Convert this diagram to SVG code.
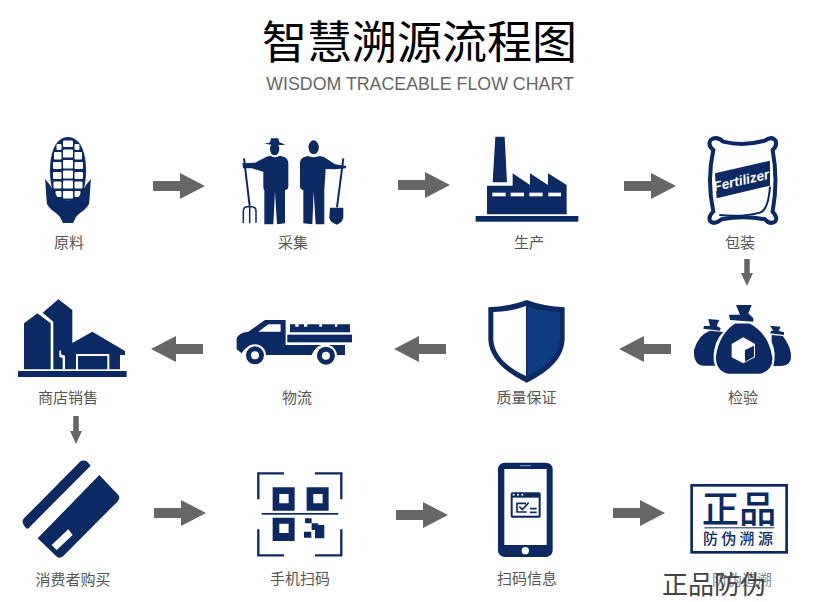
<svg xmlns="http://www.w3.org/2000/svg" width="829" height="602" viewBox="0 0 829 602">
<style>
.n{fill:#0b2a63}
.w{fill:#fff}
.l{font:15px "Noto Sans CJK SC",sans-serif;fill:#555;text-anchor:middle}
.c{stroke:#666;stroke-width:10;fill:none}
.d{stroke:#666;stroke-width:5.5;fill:none}
.t{fill:none;stroke:#0b2a63}
</style>
<defs>
<marker id="h" markerUnits="userSpaceOnUse" viewBox="0 0 25 26" refX="0" refY="13" markerWidth="25" markerHeight="26" orient="auto"><path d="M0 0L25 13L0 26Z" fill="#666"/></marker>
<marker id="s" markerUnits="userSpaceOnUse" viewBox="0 0 13 12" refX="0" refY="6" markerWidth="13" markerHeight="12" orient="auto"><path d="M0 0L13 6L0 12Z" fill="#666"/></marker>
</defs>
<rect width="829" height="602" fill="#fff"/>
<g id="title">
<text x="419.500" y="59" text-anchor="middle" style="font:45px 'Noto Sans CJK SC',sans-serif" fill="#000">智慧溯源流程图</text>
<text x="420" y="90" text-anchor="middle" style="font:17.800px 'Liberation Sans',sans-serif" fill="#666">WISDOM TRACEABLE FLOW CHART</text>
</g>
<g id="connectors">
<line class="c" x1="153" y1="186" x2="180" y2="186" marker-end="url(#h)"/>
<line class="c" x1="398" y1="185" x2="425" y2="185" marker-end="url(#h)"/>
<line class="c" x1="624" y1="186" x2="651" y2="186" marker-end="url(#h)"/>
<line class="d" x1="747" y1="259" x2="747" y2="273" marker-end="url(#s)"/>
<line class="c" x1="671" y1="349" x2="644" y2="349" marker-end="url(#h)"/>
<line class="c" x1="446" y1="349" x2="419" y2="349" marker-end="url(#h)"/>
<line class="c" x1="203" y1="349" x2="176" y2="349" marker-end="url(#h)"/>
<line class="d" x1="76" y1="416" x2="76" y2="431" marker-end="url(#s)"/>
<line class="c" x1="154" y1="513" x2="181" y2="513" marker-end="url(#h)"/>
<line class="c" x1="396" y1="515" x2="423" y2="515" marker-end="url(#h)"/>
<line class="c" x1="613" y1="513" x2="640" y2="513" marker-end="url(#h)"/>
</g>
<g id="node-raw">
<path class="n" d="M68 137C56 137 50 152 50 170C50 185 53 196 58 200H78C83 196 86 185 86 170C86 152 80 137 68 137Z"/>
<g class="w">
<rect x="63" y="140.500" width="10" height="6.500" rx="1"/><rect x="56.500" y="144" width="5" height="6" rx="1"/><rect x="74.500" y="144" width="5" height="6" rx="1"/>
<rect x="63" y="149.500" width="10" height="8" rx="1"/><rect x="54" y="152" width="7.500" height="7.500" rx="1"/><rect x="74.500" y="152" width="7.500" height="7.500" rx="1"/>
<rect x="63" y="160" width="10" height="8.500" rx="1"/><rect x="53" y="162" width="8.500" height="7" rx="1"/><rect x="74.500" y="162" width="8.500" height="7" rx="1"/>
<rect x="63" y="170.500" width="10" height="8" rx="1"/><rect x="53" y="172" width="8.500" height="7" rx="1"/><rect x="74.500" y="172" width="8.500" height="7" rx="1"/>
<rect x="63" y="180.500" width="10" height="8" rx="1"/><rect x="53.500" y="181.500" width="8" height="7" rx="1"/><rect x="74.500" y="181.500" width="8" height="7" rx="1"/>
<rect x="63" y="191" width="10" height="7.500" rx="1"/><rect x="55.500" y="191" width="6" height="6" rx="1"/><rect x="74.500" y="191" width="6" height="6" rx="1"/>
</g>
<path class="n" d="M45 179C50 184 53 190 58 198C62 201 74 201 78 198C83 190 86 184 91 179C90 188 90 196 89 204C86 210 80 212 76 217L73 223H63L60 217C56 212 50 210 47 204C46 196 46 188 45 179Z"/>
<text class="l" x="69" y="248">原料</text>
</g>
<g id="node-collect">
<g transform="translate(235 130) scale(.3333)">
<path class="n" d="M88 41Q103 39 105 37L108 25H130L133 37Q140 40 151 44Q120 47 88 41Z"/>
<ellipse class="n" cx="119" cy="57" rx="14" ry="19"/>
<path class="n" d="M22 100L60 98L95 80L105 77Q120 86 135 77L150 82Q160 88 160 100V170Q158 180 150 180V280L126 283L120 185L115 283L88 283V180Q85 178 85 170V125L50 115L24 115Z"/>
<path class="t" stroke-width="6" d="M27 85L44 228"/>
<path class="t" stroke-width="4.500" d="M25 280V243Q25 232 35 230H52Q63 232 63 243V278M44 228V280"/>
<ellipse class="n" cx="236" cy="52" rx="15.500" ry="21"/>
<path class="n" d="M334 108L300 103L268 82L255 78Q236 85 218 78L205 82Q195 88 195 100V170Q197 180 205 180V280L232 283L236 185L242 283L268 283V180L272 117L300 118L332 115Z"/>
<path class="t" stroke-width="6" d="M325 85L306 232"/>
<path class="n" d="M285 233H325V262Q322 280 305 284Q285 278 283 262Z"/>
</g>
<text class="l" x="293" y="248">采集</text>
</g>
<g id="node-produce">
<g transform="translate(460 120) scale(.3333)">
<path class="n" d="M106 50H134L141 187H98Z"/>
<path class="n" d="M81 197H158V160L210 195V160L264 195V160L320 195V283H81Z"/>
<g class="w"><rect x="97" y="218" width="40" height="11"/><rect x="152" y="218" width="40" height="11"/><rect x="208" y="218" width="40" height="11"/><rect x="265" y="218" width="38" height="11"/></g>
<rect class="n" x="47" y="288" width="308" height="17"/>
</g>
<text class="l" x="529" y="248">生产</text>
</g>
<g id="node-package">
<g transform="translate(460 120) scale(.3333)">
<path fill="#fff" stroke="#0b2a63" stroke-width="12" d="M752 60Q770 47 790 65Q850 80 915 62Q935 47 947 62Q952 78 938 90Q955 180 938 275Q955 295 945 305Q930 315 915 298Q850 285 785 298Q765 315 752 305Q742 292 760 275Q740 180 760 90Q742 75 752 60Z"/>
<path class="t" stroke-width="6" d="M778 285Q850 292 900 278Q925 270 930 200"/>
<path class="n" d="M765 160L930 122V197L770 235Z"/>
<text x="0" y="0" transform="translate(847 195) rotate(-13)" text-anchor="middle" style="font:italic bold 41px 'Liberation Sans',sans-serif" fill="#fff">Fertilizer</text>
</g>
<text class="l" x="740" y="248">包装</text>
</g>
<g id="node-inspect">
<g transform="translate(690 300) scale(.3333)">
<path class="n" d="M55 57L88 60L80 78L92 84L90 92L40 86L42 78L60 78Z"/>
<path class="n" d="M60 92L100 96Q85 110 78 130Q65 170 75 197H40Q10 195 12 150Q25 105 60 92Z"/>
<path class="n" d="M240 77L272 80L266 92L282 97L282 105L240 100L244 92L250 92Z"/>
<path class="n" d="M245 105L278 108Q305 140 303 175Q300 197 275 198H250Q260 160 245 125Z"/>
<path class="n" stroke="#fff" stroke-width="5" d="M135 68H180Q240 100 250 175Q250 215 210 224H115Q75 215 75 170Q85 100 135 68Z"/>
<path class="n" d="M138 15H185L175 40L190 55V65L120 60L117 44H150Z"/>
<path class="w" d="M160 112L195 132V172L160 190L125 172V132Z"/>
<path class="n" d="M165 150L192 137V170L165 185Z"/>
</g>
<text class="l" x="743" y="403">检验</text>
</g>
<g id="node-quality">
<g transform="translate(470 290) scale(.3333)">
<path class="n" d="M55 52Q115 50 170 30Q225 50 284 52V150Q280 225 170 278Q60 225 55 150Z"/>
<path class="w" d="M70 66Q125 65 168 48V258Q75 215 70 150Z"/>
<path fill="#0f3c80" d="M172 48Q215 65 270 66V150Q265 215 172 258Z"/>
</g>
<text class="l" x="526.500" y="403">质量保证</text>
</g>
<g id="node-logistics">
<g transform="translate(0 290) scale(.3333)">
<path class="n" d="M870 103H886V110H896V103H912V110H922V103H958V110H966V103H1005V110H1012V103H1050V127H870Z"/>
<rect class="n" x="862" y="134" width="194" height="23"/>
<path class="n" d="M710 145Q715 128 745 125L795 90H857V165H1035V195H1000Q990 165 965 165Q945 170 935 195H795Q785 165 765 165Q740 165 725 190L710 178Z"/>
<path class="w" d="M775 125L805 103H842V125Z"/>
<circle class="w" cx="765" cy="196" r="33"/><circle class="n" cx="765" cy="196" r="27"/><circle class="w" cx="765" cy="196" r="12"/>
<circle class="w" cx="978" cy="197" r="33"/><circle class="n" cx="978" cy="197" r="27"/><circle class="w" cx="978" cy="197" r="12"/>
</g>
<text class="l" x="297" y="403">物流</text>
</g>
<g id="node-store">
<g transform="translate(0 290) scale(.3333)">
<path class="n" d="M72 238V100L112 70L152 100V238Z"/>
<path class="n" d="M128 68L175 28L217 60V165L178 183V200L188 205V238H160V95Z"/>
<path class="n" d="M183 178L277 125L375 183V195H360V238H195V197L183 193Z"/>
<rect class="n" x="231" y="195" width="94" height="46" stroke="#fff" stroke-width="6"/>
<rect class="n" x="54" y="243" width="326" height="18"/>
</g>
<text class="l" x="68" y="403">商店销售</text>
</g>
<g id="node-consumer">
<g transform="translate(0 450) scale(.3333)">
<path class="n" d="M240 35Q250 28 262 35L272 47L90 230Q82 242 75 230Q62 215 72 205Z"/>
<path class="n" d="M298 75L355 135Q362 145 352 155L190 318Q178 328 168 318L113 265Z"/>
<path class="w" d="M155 285L205 238L218 255L170 300Z"/>
</g>
<text class="l" x="73" y="585">消费者购买</text>
</g>
<g id="node-scan">
<g transform="translate(0 450) scale(.3333)">
<path class="t" stroke-width="7" d="M852 70H775V148M945 70H1024V148M775 238V316H852M1024 238V316H945"/>
<path class="n" fill-rule="evenodd" d="M818 112H884V182H818ZM838 132V160H866V132ZM920 112H986V182H920ZM940 132V160H968V132ZM818 203H884V273H818ZM838 221V249H866V221Z"/>
<rect class="n" x="785" y="189" width="230" height="5"/>
<path class="n" d="M915 205H935V220H955V225H973V265H945V240H935V220H915ZM912 245H934V263H912Z"/>
</g>
<text class="l" x="300" y="584">手机扫码</text>
</g>
<g id="node-info">
<g transform="translate(470 450) scale(.3333)">
<rect class="n" x="84" y="38" width="164" height="283" rx="20"/>
<rect class="w" x="103" y="57" width="127" height="228"/>
<path stroke="#8fa0bd" stroke-width="3" d="M150 47H182"/>
<circle class="w" cx="166" cy="302" r="11"/>
<rect class="n" x="122" y="127" width="90" height="76" rx="5"/>
<rect class="w" x="128" y="143" width="78" height="54"/>
<g class="w"><circle cx="131" cy="134" r="3"/><circle cx="144" cy="134" r="3"/><circle cx="157" cy="134" r="3"/></g>
<path class="t" stroke-width="5" d="M168 160H141V186H170M148 170L157 179L176 158M180 176H200M180 187H200"/>
</g>
<text class="l" x="527" y="584">扫码信息</text>
</g>
<g id="node-authentic">
<g transform="translate(470 450) scale(.3333)">
<rect fill="#fff" stroke="#0b2a63" stroke-width="8" x="665" y="106" width="285" height="201"/>
<text x="807" y="220" text-anchor="middle" style="font:500 112px 'Noto Sans CJK SC',sans-serif" fill="#0b2a63">正品</text>
<rect class="n" x="703" y="232" width="210" height="3"/>
<text x="809" y="281" text-anchor="middle" letter-spacing="10" style="font:500 45px 'Noto Sans CJK SC',sans-serif" fill="#0b2a63">防伪溯源</text>
</g>
<text class="l" x="742" y="585" style="fill:#888">防伪追溯</text>
<text x="662" y="594" style="font:26px 'Liberation Serif','Noto Sans CJK SC',serif" fill="#444">正品防伪</text>
</g>
</svg>
